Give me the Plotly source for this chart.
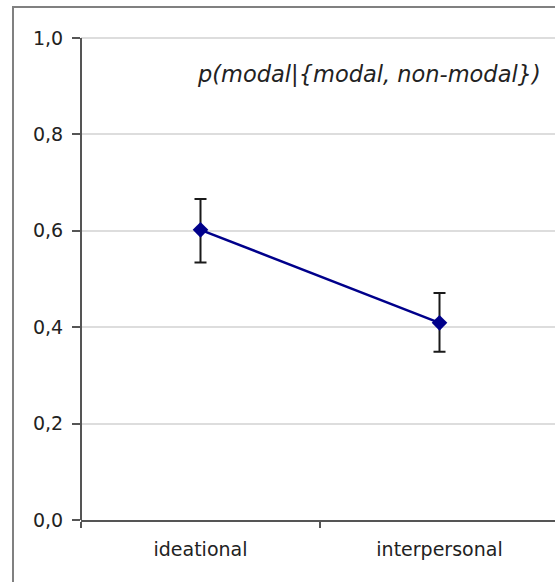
import plotly.graph_objects as go

categories = ["ideational", "interpersonal"]
means = [0.602, 0.409]
err_plus = [0.064, 0.062]
err_minus = [0.068, 0.060]
y_ticks = [0.0, 0.2, 0.4, 0.6, 0.8, 1.0]
title_text = "p(modal|{modal, non-modal})"

W, H = 555, 582
YMAX = 1.0104
L, R, T = 81, 0, 33
B = H - 520
pw, ph = W - L - R, H - T - B


def ypaper(py):
    return (520 - py) / ph


fig = go.Figure()
fig.add_trace(go.Scatter(
    x=categories, y=means, mode="lines+markers",
    line=dict(color="#00008B", width=2.5),
    marker=dict(symbol="diamond", size=12, color="#00008B"),
    error_y=dict(type="data", array=err_plus, arrayminus=err_minus,
                 color="#1a1a1a", thickness=2, width=6),
    showlegend=False,
))

fig.update_layout(
    width=W, height=H,
    margin=dict(l=L, r=R, t=T, b=B),
    paper_bgcolor="white", plot_bgcolor="white",
    separators=",.",
    font=dict(family="DejaVu Sans", size=19, color="#222222"),
    xaxis=dict(
        type="category", range=[-0.5, -0.5 + (W - L) / 239.0],
        tickson="boundaries", ticks="outside", ticklen=6, tickwidth=2,
        tickcolor="#555555", showgrid=False, showline=True,
        linecolor="#555555", linewidth=2, zeroline=False,
        ticklabelstandoff=11,
        tickfont=dict(family="DejaVu Sans", size=19, color="#222222"),
    ),
    yaxis=dict(
        range=[0, YMAX], tickvals=y_ticks, tickformat=".1f",
        ticks="outside", ticklen=8, tickwidth=2, tickcolor="#555555",
        showline=False,
        showgrid=True, gridcolor="#dddddd", gridwidth=1.5, zeroline=False,
        ticklabelstandoff=5,
        tickfont=dict(family="DejaVu Sans", size=19, color="#222222"),
    ),
    annotations=[dict(
        text="<i>" + title_text + "</i>", xref="paper", yref="paper",
        x=(369 - L) / pw, y=ypaper(74), xanchor="center", yanchor="middle",
        showarrow=False,
        font=dict(family="DejaVu Sans", size=22.5, color="#222222"),
    )],
    shapes=[
        dict(type="rect", xref="paper", yref="paper",
             x0=(13 - L) / pw, x1=1.2, y0=-0.3, y1=ypaper(7),
             line=dict(color="#808080", width=2), fillcolor="rgba(0,0,0,0)",
             layer="above"),
        dict(type="line", xref="paper", yref="y",
             x0=0, x1=0, y0=y_ticks[0], y1=y_ticks[-1],
             line=dict(color="#555555", width=2), layer="above"),
    ],
)

fig.write_html(
    "out.html",
    config={"displayModeBar": False},
    post_script="document.body.style.margin='0';document.body.style.padding='0';",
)
